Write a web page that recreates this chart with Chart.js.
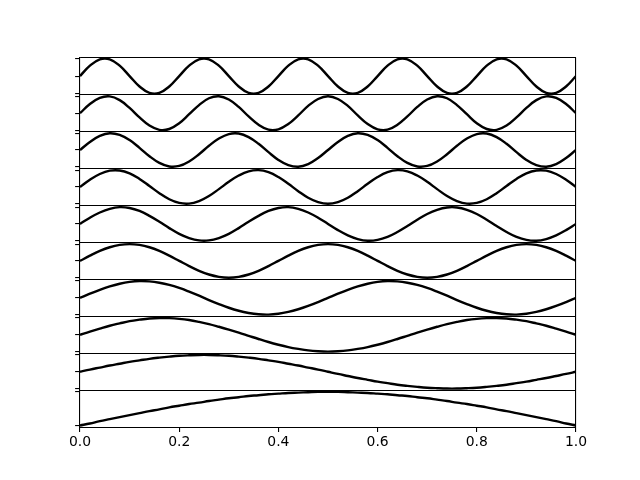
<!DOCTYPE html>
<html>
<head>
<meta charset="utf-8">
<script src="https://cdn.jsdelivr.net/npm/chart.js@4"></script>
<style>html,body{margin:0;padding:0;background:#fff;}canvas{display:block;}</style>
</head>
<body>
<canvas id="c" width="640" height="480"></canvas>
<script>
// x positions shared by every panel
const xs = [0,0.02,0.04,0.06,0.08,0.1,0.12,0.14,0.16,0.18,0.2,0.22,0.24,0.26,0.28,0.3,0.32,0.34,0.36,0.38,0.4,0.42,0.44,0.46,0.48,0.5,0.52,0.54,0.56,0.58,0.6,0.62,0.64,0.66,0.68,0.7,0.72,0.74,0.76,0.78,0.8,0.82,0.84,0.86,0.88,0.9,0.92,0.94,0.96,0.98,1];

// one wave per panel, bottom panel first
const wave1 = [0,.06,.13,.19,.25,.31,.37,.43,.48,.54,.59,.64,.68,.73,.77,.81,.84,.88,.90,.93,.95,.97,.98,.99,1,1,1,.99,.98,.97,.95,.93,.90,.88,.84,.81,.77,.73,.68,.64,.59,.54,.48,.43,.37,.31,.25,.19,.13,.06,0];
const wave2 = [0,.13,.25,.37,.48,.59,.68,.77,.84,.90,.95,.98,1,1,.98,.95,.90,.84,.77,.68,.59,.48,.37,.25,.13,0,-.13,-.25,-.37,-.48,-.59,-.68,-.77,-.84,-.90,-.95,-.98,-1,-1,-.98,-.95,-.90,-.84,-.77,-.68,-.59,-.48,-.37,-.25,-.13,0];
const wave3 = [0,.19,.37,.54,.68,.81,.90,.97,1,.99,.95,.88,.77,.64,.48,.31,.13,-.06,-.25,-.43,-.59,-.73,-.84,-.93,-.98,-1,-.98,-.93,-.84,-.73,-.59,-.43,-.25,-.06,.13,.31,.48,.64,.77,.88,.95,.99,1,.97,.90,.81,.68,.54,.37,.19,0];
const wave4 = [0,.25,.48,.68,.84,.95,1,.98,.90,.77,.59,.37,.13,-.13,-.37,-.59,-.77,-.90,-.98,-1,-.95,-.84,-.68,-.48,-.25,0,.25,.48,.68,.84,.95,1,.98,.90,.77,.59,.37,.13,-.13,-.37,-.59,-.77,-.90,-.98,-1,-.95,-.84,-.68,-.48,-.25,0];
const wave5 = [0,.31,.59,.81,.95,1,.95,.81,.59,.31,0,-.31,-.59,-.81,-.95,-1,-.95,-.81,-.59,-.31,0,.31,.59,.81,.95,1,.95,.81,.59,.31,0,-.31,-.59,-.81,-.95,-1,-.95,-.81,-.59,-.31,0,.31,.59,.81,.95,1,.95,.81,.59,.31,0];
const wave6 = [0,.37,.68,.90,1,.95,.77,.48,.13,-.25,-.59,-.84,-.98,-.98,-.84,-.59,-.25,.13,.48,.77,.95,1,.90,.68,.37,0,-.37,-.68,-.90,-1,-.95,-.77,-.48,-.13,.25,.59,.84,.98,.98,.84,.59,.25,-.13,-.48,-.77,-.95,-1,-.90,-.68,-.37,0];
const wave7 = [0,.43,.77,.97,.98,.81,.48,.06,-.37,-.73,-.95,-.99,-.84,-.54,-.13,.31,.68,.93,1,.88,.59,.19,-.25,-.64,-.90,-1,-.90,-.64,-.25,.19,.59,.88,1,.93,.68,.31,-.13,-.54,-.84,-.99,-.95,-.73,-.37,.06,.48,.81,.98,.97,.77,.43,0];
const wave8 = [0,.48,.84,1,.90,.59,.13,-.37,-.77,-.98,-.95,-.68,-.25,.25,.68,.95,.98,.77,.37,-.13,-.59,-.90,-1,-.84,-.48,0,.48,.84,1,.90,.59,.13,-.37,-.77,-.98,-.95,-.68,-.25,.25,.68,.95,.98,.77,.37,-.13,-.59,-.90,-1,-.84,-.48,0];
const wave9 = [0,.54,.90,.99,.77,.31,-.25,-.73,-.98,-.93,-.59,-.06,.48,.88,1,.81,.37,-.19,-.68,-.97,-.95,-.64,-.13,.43,.84,1,.84,.43,-.13,-.64,-.95,-.97,-.68,-.19,.37,.81,1,.88,.48,-.06,-.59,-.93,-.98,-.73,-.25,.31,.77,.99,.90,.54,0];
const wave10 = [0,.59,.95,.95,.59,0,-.59,-.95,-.95,-.59,0,.59,.95,.95,.59,0,-.59,-.95,-.95,-.59,0,.59,.95,.95,.59,0,-.59,-.95,-.95,-.59,0,.59,.95,.95,.59,0,-.59,-.95,-.95,-.59,0,.59,.95,.95,.59,0,-.59,-.95,-.95,-.59,0];

// tick values
const yTickValues = [-1, 0, 1];
const xTickValues = [0, 0.2, 0.4, 0.6, 0.8, 1.0];

const waves = [wave1, wave2, wave3, wave4, wave5, wave6, wave7, wave8, wave9, wave10];

const BLACK = '#000000';
const NONE = 'rgba(0,0,0,0)';
const FONT = 'DejaVu Sans';

const near = (a, b) => Math.abs(a - b) < 1e-9;

const scales = {
  x: {
    type: 'linear',
    position: 'bottom',
    min: 0,
    max: 1,
    afterBuildTicks: s => { s.ticks = xTickValues.map(v => ({ value: v })); },
    afterFit: s => { s.height = 52.8; },
    ticks: {
      color: BLACK,
      font: { family: FONT, size: 13.9 },
      padding: 2,
      maxRotation: 0,
      autoSkip: false,
      callback: v => Number(v).toFixed(1)
    },
    grid: {
      color: ctx => (ctx.tick && near(ctx.tick.value, 1)) ? BLACK : NONE,
      lineWidth: 1.1,
      tickColor: BLACK,
      tickWidth: 1.1,
      tickLength: 4.9,
      drawTicks: true
    },
    border: { display: true, color: BLACK, width: 1.1 }
  }
};

const datasets = [];
waves.forEach((w, i) => {
  const id = 'y' + (i + 1);
  const lo = Math.min(...w), hi = Math.max(...w);
  const pad = (hi - lo) * 0.05;
  const min = lo - pad, max = hi + pad;
  scales[id] = {
    type: 'linear',
    position: 'left',
    stack: 'panels',
    stackWeight: 1,
    weight: i + 1,
    min: min,
    max: max,
    afterBuildTicks: s => {
      const vals = [min].concat(yTickValues.filter(v => v > min && v < max), [max]);
      s.ticks = vals.map(v => ({ value: v }));
    },
    afterFit: s => { s.width = 10; },
    ticks: { display: false },
    grid: {
      color: ctx => (ctx.tick && (near(ctx.tick.value, min) || near(ctx.tick.value, max))) ? BLACK : NONE,
      tickColor: ctx => (ctx.tick && (near(ctx.tick.value, min) || near(ctx.tick.value, max))) ? NONE : BLACK,
      lineWidth: 1.1,
      tickWidth: 1.1,
      tickLength: 4.9,
      drawTicks: true,
      drawOnChartArea: true
    },
    border: { display: true, color: BLACK, width: 1.1 }
  };
  datasets.push({
    data: xs.map((x, j) => ({ x: x, y: w[j] })),
    yAxisID: id,
    xAxisID: 'x',
    borderColor: BLACK,
    borderWidth: 2.4,
    pointRadius: 0,
    tension: 0.4,
    fill: false
  });
});

new Chart(document.getElementById('c'), {
  type: 'line',
  data: { datasets: datasets },
  options: {
    responsive: false,
    animation: false,
    devicePixelRatio: 1,
    layout: { padding: { left: 70, right: 64, top: 57.6, bottom: 0 } },
    plugins: { legend: { display: false }, tooltip: { enabled: false } },
    scales: scales
  }
});
</script>
</body>
</html>
